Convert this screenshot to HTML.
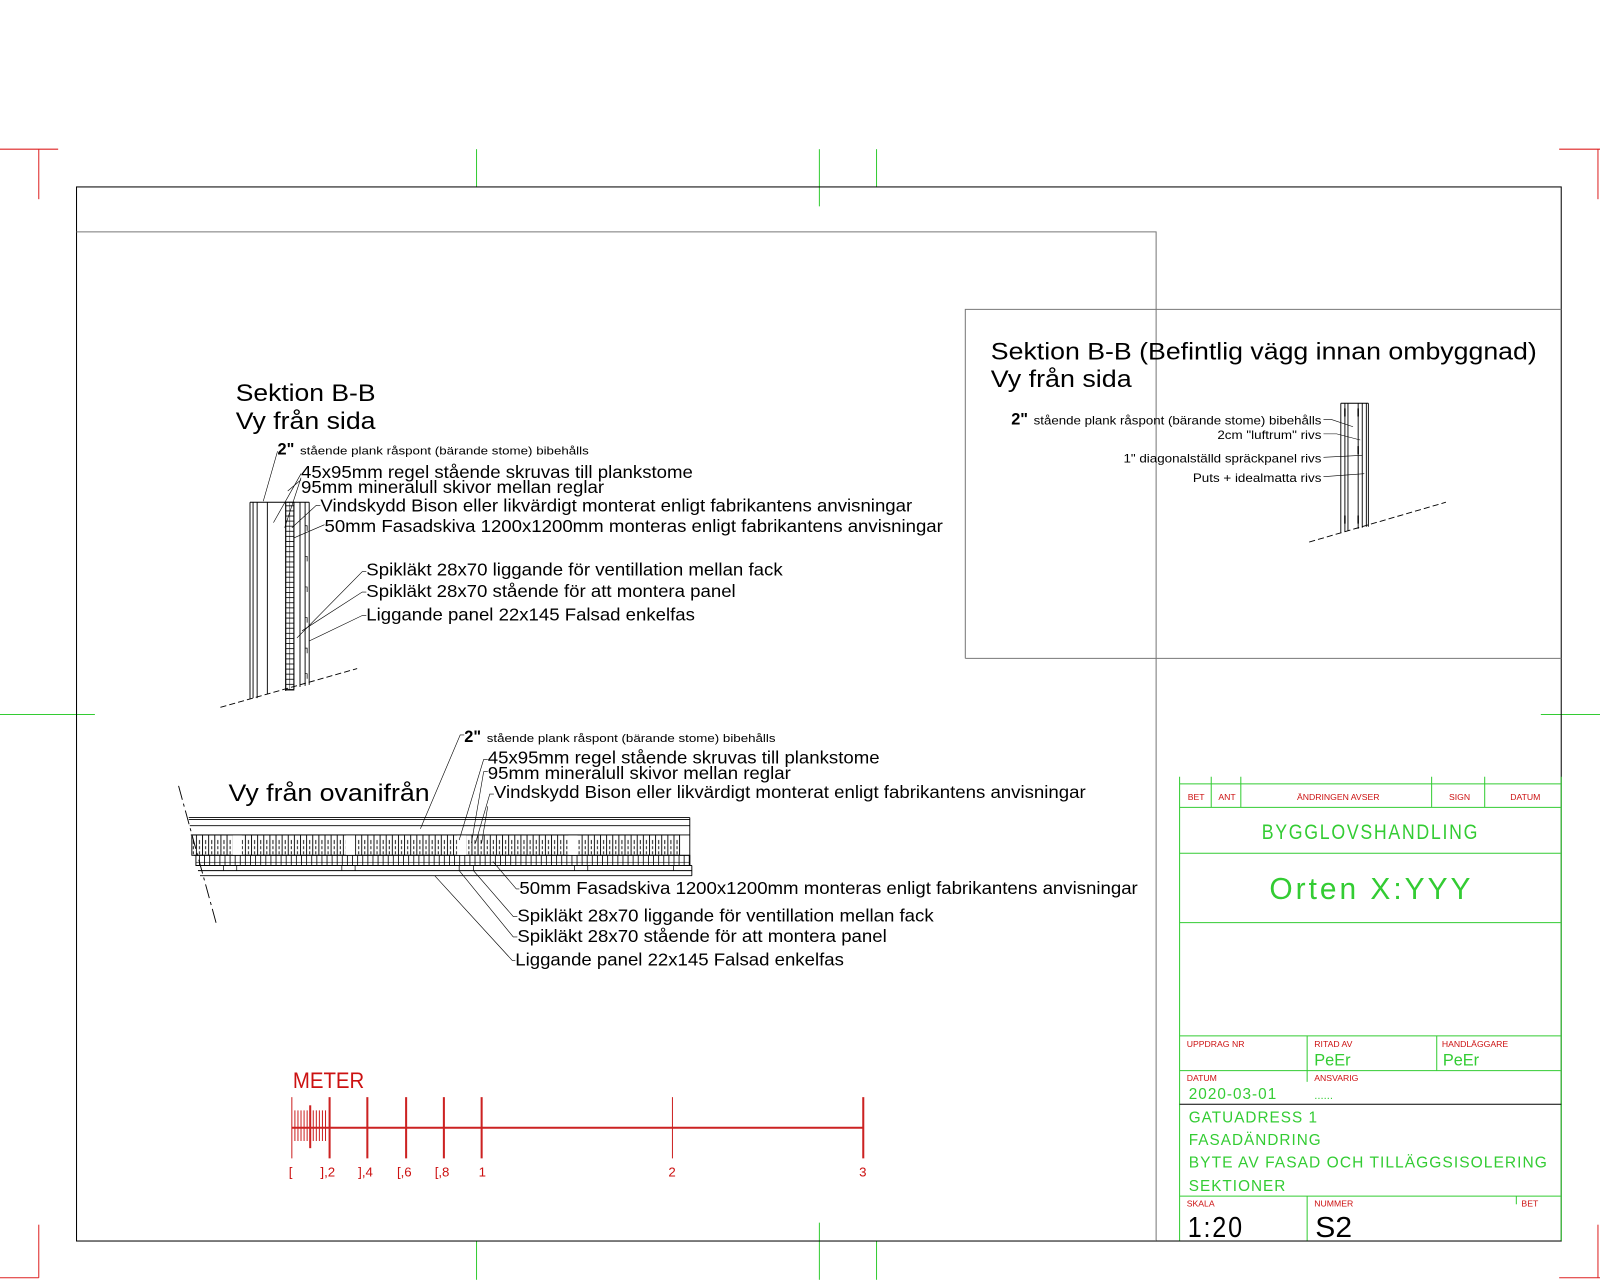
<!DOCTYPE html>
<html><head><meta charset="utf-8"><style>
html,body{margin:0;padding:0;background:#fff;}
svg{display:block;}
.t{font-family:"Liberation Sans Narrow","Liberation Sans",sans-serif;fill:#000;}
.g{font-family:"Liberation Sans",sans-serif;fill:#33cc33;font-weight:300;}
.r{font-family:"Liberation Sans",sans-serif;fill:#cc1111;}
</style></head><body>
<svg width="1600" height="1280" viewBox="0 0 1568 1254" xmlns="http://www.w3.org/2000/svg">
<defs>
<pattern id="hv" width="6" height="5" patternUnits="userSpaceOnUse">
<rect width="6" height="5" fill="#fff"/><line x1="0" y1="0.5" x2="6" y2="0.5" stroke="#000" stroke-width="0.8"/>
</pattern>
<pattern id="hh" width="6" height="20" patternUnits="userSpaceOnUse">
<rect width="6" height="20" fill="#fff"/><line x1="0.5" y1="0" x2="0.5" y2="20" stroke="#000" stroke-width="0.9"/>
<line x1="3.5" y1="3" x2="3.5" y2="7" stroke="#000" stroke-width="0.9"/><line x1="3.5" y1="9" x2="3.5" y2="12" stroke="#000" stroke-width="0.9"/><line x1="3.5" y1="14" x2="3.5" y2="17" stroke="#000" stroke-width="0.9"/>
</pattern>
<pattern id="hf" width="5" height="10" patternUnits="userSpaceOnUse">
<rect width="5" height="10" fill="#fff"/><line x1="0.5" y1="0" x2="0.5" y2="10" stroke="#000" stroke-width="0.8"/><line x1="0" y1="5" x2="5" y2="5" stroke="#000" stroke-width="0.6"/>
</pattern>
</defs>
<g fill="none" stroke-width="1">
<g stroke="#d22">
<polyline points="0,146 57,146"/><line x1="38" y1="146" x2="38" y2="195"/>
<polyline points="1528,146 1568,146"/><line x1="1566" y1="146" x2="1566" y2="195"/>
<polyline points="0,1252 38,1252"/><line x1="38" y1="1200" x2="38" y2="1252"/>
<polyline points="1528,1252 1568,1252"/><line x1="1566" y1="1200" x2="1566" y2="1252"/>
</g>
<g stroke="#3c3">
<line x1="467" y1="146" x2="467" y2="183"/><line x1="803" y1="146" x2="803" y2="202"/><line x1="859" y1="146" x2="859" y2="183"/>
<line x1="467" y1="1216" x2="467" y2="1254"/><line x1="803" y1="1198" x2="803" y2="1254"/><line x1="859" y1="1216" x2="859" y2="1254"/>
<line x1="0" y1="700" x2="93" y2="700"/><line x1="1510" y1="700" x2="1568" y2="700"/>
</g>
<rect x="75" y="183" width="1455" height="1033" stroke="#000"/>
<polyline points="75,227 1133,227 1133,1216" stroke="#777"/>
<polyline points="946,645 946,303 1530,303" stroke="#777"/>
<line x1="946" y1="645" x2="1530" y2="645" stroke="#777"/>
</g>

<g stroke="#000" stroke-width="0.9" fill="none">
<rect x="280" y="492" width="8" height="184" fill="url(#hv)"/>
<line x1="284" y1="492" x2="284" y2="676" stroke-width="0.5"/>
<line x1="245" y1="492" x2="245" y2="685"/><line x1="248" y1="492" x2="248" y2="684"/><line x1="252" y1="492" x2="252" y2="684"/>
<line x1="262" y1="492" x2="262" y2="680"/><line x1="280" y1="492" x2="280" y2="677"/><line x1="288" y1="492" x2="288" y2="675"/>
<line x1="294" y1="492" x2="294" y2="673"/><line x1="299" y1="492" x2="299" y2="672"/><line x1="303" y1="492" x2="303" y2="671"/>
<line x1="245" y1="492" x2="303" y2="492"/>
<path d="M299,515 h2 v5 M299,545 h2 v5 M299,575 h2 v5 M299,605 h2 v5 M299,635 h2 v5 M299,660 h2 v5" stroke-width="0.7"/>
<line x1="216" y1="693" x2="350" y2="655" stroke-dasharray="6,3"/>
<g stroke-width="0.6">
<polyline points="258,491 272,442"/>
<polyline points="268,512 295,464"/><polyline points="279,517 295,468"/>
<polyline points="282,481 295,470"/>
<polyline points="286,517 310,495 314,495"/>
<polyline points="288,527 318,514"/>
<polyline points="291,625 355,560 359,560"/><polyline points="296,618 355,580 359,580"/><polyline points="303,628 355,603 359,603"/>
</g>
</g>
<g class="t">
<text x="231" y="393" font-size="24" textLength="137" lengthAdjust="spacingAndGlyphs">Sektion B-B</text>
<text x="231" y="420" font-size="24" textLength="137" lengthAdjust="spacingAndGlyphs">Vy från sida</text>
<text x="272" y="445" font-size="16" font-weight="bold">2"</text>
<text x="294" y="445" font-size="11" textLength="283" lengthAdjust="spacingAndGlyphs">stående plank råspont (bärande stome) bibehålls</text>
<text x="295" y="468" font-size="17" textLength="384" lengthAdjust="spacingAndGlyphs">45x95mm regel stående skruvas till plankstome</text>
<text x="295" y="483" font-size="17" textLength="297" lengthAdjust="spacingAndGlyphs">95mm mineralull skivor mellan reglar</text>
<text x="314" y="501" font-size="17" textLength="580" lengthAdjust="spacingAndGlyphs">Vindskydd Bison eller likvärdigt monterat enligt fabrikantens anvisningar</text>
<text x="318" y="521" font-size="17" textLength="606" lengthAdjust="spacingAndGlyphs">50mm Fasadskiva 1200x1200mm monteras enligt fabrikantens anvisningar</text>
<text x="359" y="564" font-size="17" textLength="408" lengthAdjust="spacingAndGlyphs">Spikläkt 28x70 liggande för ventillation mellan fack</text>
<text x="359" y="585" font-size="17" textLength="362" lengthAdjust="spacingAndGlyphs">Spikläkt 28x70 stående för att montera panel</text>
<text x="359" y="608" font-size="17" textLength="322" lengthAdjust="spacingAndGlyphs">Liggande panel 22x145 Falsad enkelfas</text>
</g>

<g stroke="#000" stroke-width="0.9" fill="none">
<rect x="188" y="818" width="478" height="20" fill="url(#hh)"/>
<rect x="192" y="838" width="484" height="10" fill="url(#hf)"/>
<g fill="#fff" stroke="none"><rect x="228" y="818" width="9" height="20"/><rect x="339" y="818" width="9" height="20"/><rect x="448" y="818" width="9" height="20"/><rect x="557" y="818" width="9" height="20"/></g>
<line x1="185" y1="801" x2="676" y2="801"/><line x1="185" y1="803" x2="676" y2="803"/><line x1="186" y1="809" x2="676" y2="809"/>
<line x1="187" y1="818" x2="676" y2="818"/><line x1="190" y1="838" x2="676" y2="838"/><line x1="192" y1="848" x2="678" y2="848"/>
<line x1="194" y1="853" x2="678" y2="853"/><line x1="196" y1="858" x2="678" y2="858"/><line x1="676" y1="801" x2="676" y2="848"/><line x1="678" y1="848" x2="678" y2="858"/>
<path d="M219,848 v5 M232,848 v5 M335,848 v5 M348,848 v5 M450,848 v5 M464,848 v5 M563,848 v5 M576,848 v5 M660,848 v5" stroke-width="0.7"/>
<line x1="175" y1="770" x2="212" y2="905" stroke-dasharray="14,4,3,4"/>
<g stroke-width="0.6">
<polyline points="412,812 451,720 455,720"/>
<polyline points="450,823 474,744 478,744"/><polyline points="462,826 474,756 478,756"/>
<polyline points="466,826 480,778 484,778"/><polyline points="472,826 478,790"/>
<polyline points="483,844 506,871 509,871"/><polyline points="464,853 503,898 507,898"/>
<polyline points="450,853 503,918 507,918"/><polyline points="426,858 502,941 505,941"/>
</g>
</g>
<g class="t">
<text x="224" y="785" font-size="24" textLength="197" lengthAdjust="spacingAndGlyphs">Vy från ovanifrån</text>
<text x="455" y="727" font-size="16" font-weight="bold">2"</text>
<text x="477" y="727" font-size="11" textLength="283" lengthAdjust="spacingAndGlyphs">stående plank råspont (bärande stome) bibehålls</text>
<text x="478" y="748" font-size="17" textLength="384" lengthAdjust="spacingAndGlyphs">45x95mm regel stående skruvas till plankstome</text>
<text x="478" y="763" font-size="17" textLength="297" lengthAdjust="spacingAndGlyphs">95mm mineralull skivor mellan reglar</text>
<text x="484" y="782" font-size="17" textLength="580" lengthAdjust="spacingAndGlyphs">Vindskydd Bison eller likvärdigt monterat enligt fabrikantens anvisningar</text>
<text x="509" y="876" font-size="17" textLength="606" lengthAdjust="spacingAndGlyphs">50mm Fasadskiva 1200x1200mm monteras enligt fabrikantens anvisningar</text>
<text x="507" y="903" font-size="17" textLength="408" lengthAdjust="spacingAndGlyphs">Spikläkt 28x70 liggande för ventillation mellan fack</text>
<text x="507" y="923" font-size="17" textLength="362" lengthAdjust="spacingAndGlyphs">Spikläkt 28x70 stående för att montera panel</text>
<text x="505" y="946" font-size="17" textLength="322" lengthAdjust="spacingAndGlyphs">Liggande panel 22x145 Falsad enkelfas</text>
</g>

<g stroke="#000" stroke-width="0.9" fill="none">
<line x1="1314" y1="395" x2="1314" y2="522"/><line x1="1318" y1="395" x2="1318" y2="521"/><line x1="1321" y1="395" x2="1321" y2="520"/>
<line x1="1331" y1="395" x2="1331" y2="518"/><line x1="1335" y1="395" x2="1335" y2="517"/><line x1="1339" y1="395" x2="1339" y2="516"/><line x1="1341" y1="395" x2="1341" y2="516"/>
<line x1="1314" y1="395" x2="1341" y2="395"/>
<path d="M1318,400 v8 M1331,400 v8 M1331,437 v8 M1318,505 v8 M1331,505 v8" stroke-width="1.4"/>
<line x1="1283" y1="531" x2="1417" y2="492" stroke-dasharray="6,3"/>
<g stroke-width="0.6">
<polyline points="1297,411 1305,411 1326,418"/><polyline points="1297,425 1310,425 1333,431"/>
<polyline points="1297,448 1335,446"/><polyline points="1297,467 1337,464"/>
</g>
</g>
<g class="t">
<text x="971" y="352" font-size="24" textLength="535" lengthAdjust="spacingAndGlyphs">Sektion B-B (Befintlig vägg innan ombyggnad)</text>
<text x="971" y="379" font-size="24" textLength="138" lengthAdjust="spacingAndGlyphs">Vy från sida</text>
<text x="991" y="416" font-size="16" font-weight="bold">2"</text>
<text x="1013" y="416" font-size="11.5" textLength="282" lengthAdjust="spacingAndGlyphs">stående plank råspont (bärande stome) bibehålls</text>
<text x="1193" y="430" font-size="11.5" textLength="102" lengthAdjust="spacingAndGlyphs">2cm "luftrum" rivs</text>
<text x="1101" y="453" font-size="11.5" textLength="194" lengthAdjust="spacingAndGlyphs">1" diagonalställd spräckpanel rivs</text>
<text x="1169" y="472" font-size="11.5" textLength="126" lengthAdjust="spacingAndGlyphs">Puts + idealmatta rivs</text>
</g>

<g stroke="#c22" fill="none">
<line x1="286" y1="1105" x2="846" y2="1105" stroke-width="2"/>
<line x1="286" y1="1075" x2="286" y2="1135" stroke-width="1"/>
<g stroke-width="2"><line x1="323" y1="1075" x2="323" y2="1135"/><line x1="360" y1="1075" x2="360" y2="1135"/><line x1="398" y1="1075" x2="398" y2="1135"/><line x1="435" y1="1075" x2="435" y2="1135"/><line x1="472" y1="1075" x2="472" y2="1135"/><line x1="846" y1="1075" x2="846" y2="1135"/></g>
<line x1="659" y1="1075" x2="659" y2="1135" stroke-width="1"/>
<path d="M289,1088 v30 M292,1088 v30 M295,1088 v30 M298,1088 v30 M301,1088 v30 M307,1088 v30 M310,1088 v30 M313,1088 v30 M316,1088 v30 M319,1088 v30" stroke-width="1"/>
<line x1="304" y1="1083" x2="304" y2="1125" stroke-width="2"/>
</g>
<g class="r" font-size="13">
<text x="287" y="1066" font-size="22" font-weight="300" textLength="70" lengthAdjust="spacingAndGlyphs">METER</text>
<text x="283" y="1153">[</text><text x="314" y="1153">],2</text><text x="351" y="1153">],4</text><text x="389" y="1153">[,6</text><text x="426" y="1153">[,8</text>
<text x="469" y="1153">1</text><text x="655" y="1153">2</text><text x="842" y="1153">3</text>
</g>

<g stroke="#3c3" fill="none" stroke-width="1">
<line x1="1156" y1="761" x2="1156" y2="1216"/><line x1="1530" y1="761" x2="1530" y2="1216"/>
<line x1="1156" y1="768" x2="1530" y2="768"/><line x1="1156" y1="791" x2="1530" y2="791"/>
<line x1="1156" y1="836" x2="1530" y2="836"/><line x1="1156" y1="904" x2="1530" y2="904"/>
<line x1="1156" y1="1015" x2="1530" y2="1015"/><line x1="1156" y1="1049" x2="1530" y2="1049"/>
<line x1="1156" y1="1172" x2="1530" y2="1172"/>
<line x1="1187" y1="761" x2="1187" y2="791"/><line x1="1216" y1="761" x2="1216" y2="791"/><line x1="1403" y1="761" x2="1403" y2="791"/><line x1="1455" y1="761" x2="1455" y2="791"/>
<line x1="1281" y1="1015" x2="1281" y2="1060"/><line x1="1408" y1="1015" x2="1408" y2="1049"/>
<line x1="1281" y1="1172" x2="1281" y2="1216"/><line x1="1486" y1="1172" x2="1486" y2="1180"/>
</g>
<line x1="1156" y1="1082" x2="1530" y2="1082" stroke="#000"/>
<line x1="1133" y1="1216" x2="1530" y2="1216" stroke="#000"/>
<g class="r" font-size="8.5">
<text x="1164" y="784">BET</text><text x="1194" y="784">ANT</text><text x="1271" y="784">ÄNDRINGEN AVSER</text><text x="1420" y="784">SIGN</text><text x="1480" y="784">DATUM</text>
<text x="1163" y="1026">UPPDRAG NR</text><text x="1288" y="1026">RITAD AV</text><text x="1413" y="1026">HANDLÄGGARE</text>
<text x="1163" y="1059">DATUM</text><text x="1288" y="1059">ANSVARIG</text>
<text x="1163" y="1182">SKALA</text><text x="1288" y="1182">NUMMER</text><text x="1491" y="1182">BET</text>
</g>
<g class="g">
<text x="1343" y="822" font-size="21" text-anchor="middle" letter-spacing="2" textLength="213" lengthAdjust="spacingAndGlyphs">BYGGLOVSHANDLING</text>
<text x="1344" y="881" font-size="30" text-anchor="middle" letter-spacing="3" textLength="200" lengthAdjust="spacingAndGlyphs">Orten X:YYY</text>
<text x="1288" y="1044" font-size="16">PeEr</text><text x="1414" y="1044" font-size="16">PeEr</text>
<text x="1165" y="1077" font-size="15" letter-spacing="1">2020-03-01</text>
<text x="1288" y="1077" font-size="11">......</text>
<text x="1165" y="1100" font-size="15" letter-spacing="1">GATUADRESS 1</text>
<text x="1165" y="1122" font-size="15" letter-spacing="1">FASADÄNDRING</text>
<text x="1165" y="1144" font-size="15" letter-spacing="1" textLength="352" lengthAdjust="spacingAndGlyphs">BYTE AV FASAD OCH TILLÄGGSISOLERING</text>
<text x="1165" y="1167" font-size="15" letter-spacing="1">SEKTIONER</text>
</g>
<g font-family="Liberation Sans,sans-serif" font-weight="300" fill="#000">
<text x="1164" y="1212" font-size="28" letter-spacing="2" textLength="55" lengthAdjust="spacingAndGlyphs">1:20</text>
<text x="1289" y="1212" font-size="28" textLength="36" lengthAdjust="spacingAndGlyphs">S2</text>
</g>
</svg>
</body></html>
